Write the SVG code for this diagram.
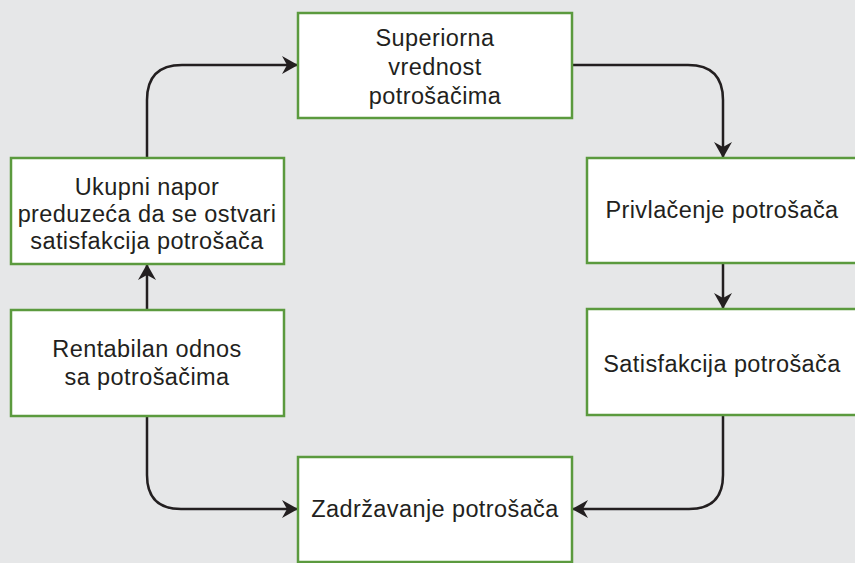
<svg xmlns="http://www.w3.org/2000/svg" width="855" height="563" viewBox="0 0 855 563">
<style>
.box{fill:#fff;stroke:#5b9a3e;stroke-width:2.5}
.t{font-family:"Liberation Sans",Arial,sans-serif;font-size:23.5px;letter-spacing:0.4px;fill:#231f20;text-anchor:middle}
.c{fill:none;stroke:#231f20;stroke-width:2.5}
</style>
<defs>
<marker id="ah" viewBox="0 0 16 18" refX="15" refY="9" markerWidth="16" markerHeight="18" markerUnits="userSpaceOnUse" orient="auto">
<path d="M0,0 L16,9 L0,18 L5,9 Z" fill="#231f20"/>
</marker>
</defs>
<rect width="855" height="563" fill="#e6e7e8"/>
<g id="connectors">
<path class="c" d="M147,158 V100 Q147,65 182,65 H297" marker-end="url(#ah)"/>
<path class="c" d="M572,65 H688 Q723,65 723,100 V157" marker-end="url(#ah)"/>
<path class="c" d="M723,263 V308" marker-end="url(#ah)"/>
<path class="c" d="M723,415 V475 Q723,509 689,509 H573" marker-end="url(#ah)"/>
<path class="c" d="M147,416 V475 Q147,509 181,509 H297" marker-end="url(#ah)"/>
<path class="c" d="M147,310 V265" marker-end="url(#ah)"/>
</g>
<g id="superiorna">
<rect class="box" x="298" y="13" width="274" height="105"/>
<text class="t" x="435" y="46">Superiorna</text>
<text class="t" x="435" y="75">vrednost</text>
<text class="t" x="435" y="104">potrošačima</text>
</g>
<g id="ukupni">
<rect class="box" x="11" y="158" width="273" height="106"/>
<text class="t" x="147" y="195">Ukupni napor</text>
<text class="t" x="147" y="222">preduzeća da se ostvari</text>
<text class="t" x="147" y="249">satisfakcija potrošača</text>
</g>
<g id="privlacenje">
<rect class="box" x="587" y="158" width="272" height="105"/>
<text class="t" x="722" y="218">Privlačenje potrošača</text>
</g>
<g id="satisfakcija">
<rect class="box" x="587" y="309" width="272" height="106"/>
<text class="t" x="722" y="372">Satisfakcija potrošača</text>
</g>
<g id="rentabilan">
<rect class="box" x="11" y="310" width="273" height="106"/>
<text class="t" x="147" y="357">Rentabilan odnos</text>
<text class="t" x="147" y="385">sa potrošačima</text>
</g>
<g id="zadrzavanje">
<rect class="box" x="298" y="457" width="274" height="105"/>
<text class="t" x="435" y="517">Zadržavanje potrošača</text>
</g>
</svg>
